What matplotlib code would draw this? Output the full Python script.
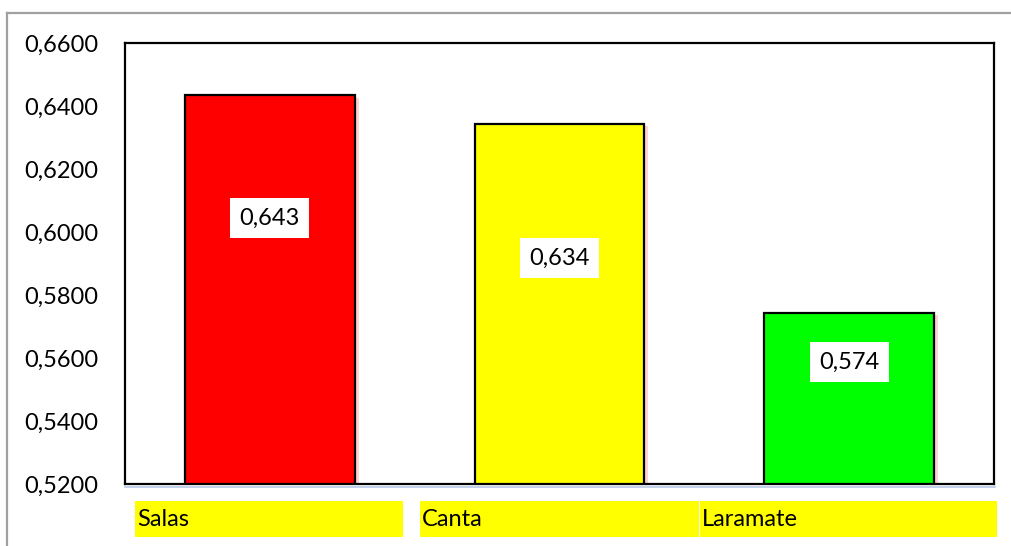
import matplotlib
matplotlib.use("Agg")
import matplotlib.pyplot as plt
import matplotlib.patheffects as pe
from matplotlib.patches import Rectangle
from matplotlib.lines import Line2D
from matplotlib.ticker import FuncFormatter, MultipleLocator

plt.rcParams['font.family'] = ['Lato', 'DejaVu Sans']

# datos
categorias = ["Salas", "Canta", "Laramate"]
valores = [0.6434, 0.6344, 0.5744]
colores = ["#FF0000", "#FFFF00", "#00FF00"]
# altura (en unidades del eje) de las etiquetas de valor
etiqueta_y = [0.6044, 0.5917, 0.5587]

W, H = 1011, 546
fig = plt.figure(figsize=(W / 100, H / 100), dpi=100)
ax = fig.add_axes([125 / W, 1 - 484 / H, (994 - 125) / W, (484 - 43) / H])

x = range(len(categorias))
bars = ax.bar(x, valores, width=0.585, color=colores, edgecolor="black", linewidth=1.6,
              zorder=2)
for b in bars:
    b.set_path_effects([pe.SimplePatchShadow(offset=(3, -2), shadow_rgbFace="#FF8080", alpha=0.35),
                        pe.Normal()])

for i, v in enumerate(valores):
    ax.text(i, etiqueta_y[i], "{:.3f}".format(v).replace(".", ","), ha="center", va="center",
            fontsize=17, zorder=3,
            bbox=dict(boxstyle="square,pad=0.4", fc="white", ec="none"))

ax.set_xlim(-0.5, len(categorias) - 0.5)
ax.set_ylim(0.52, 0.66)
ax.yaxis.set_major_locator(MultipleLocator(0.02))
ax.yaxis.set_major_formatter(FuncFormatter(lambda v, p: "{:.4f}".format(v).replace(".", ",")))
ax.tick_params(axis="y", length=0, pad=19.5, labelsize=17)
ax.set_xticks([])
for s in ax.spines.values():
    s.set_linewidth(1.6)
    s.set_color("black")

# cajas amarillas de las categorias
cajas = [(135, 403), (420, 699), (700, 997)]
for (x0, x1), nombre in zip(cajas, categorias):
    fig.patches.append(Rectangle((x0 / W, 1 - 537 / H), (x1 - x0) / W, 36 / H,
                                 transform=fig.transFigure, fc="#FFFF00", ec="none"))
    fig.text((x0 + 2) / W, 1 - 519 / H, nombre, ha="left", va="center", fontsize=17)

# linea azul bajo el eje y marco exterior gris
fig.add_artist(Line2D([125 / W, 995 / W], [1 - 487 / H] * 2, color="#B8C8E8", lw=1.2))
fig.add_artist(Line2D([7 / W, 1.0], [1 - 13 / H] * 2, color="#A0A0A0", lw=1.6))
fig.add_artist(Line2D([7 / W, 7 / W], [0, 1 - 13 / H], color="#A0A0A0", lw=1.6))

fig.savefig("out.png", dpi=100)
